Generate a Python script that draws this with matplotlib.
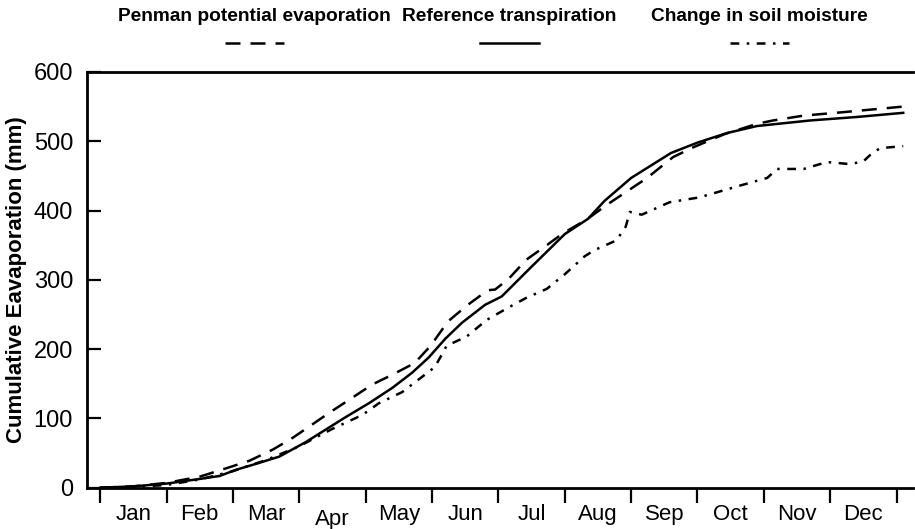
import numpy as np
import matplotlib
matplotlib.use("Agg")
import matplotlib.pyplot as plt
from matplotlib.lines import Line2D

# ======================================
# Data (months from 1 Jan, cumulative mm)
# ======================================

months = ["Jan", "Feb", "Mar", "Apr", "May", "Jun",
          "Jul", "Aug", "Sep", "Oct", "Nov", "Dec"]

ref_x = [0, 0.5, 1.0, 1.45, 1.8, 2.05, 2.4, 2.7, 3.1, 3.7, 4.05, 4.4, 4.7,
         4.95, 5.2, 5.45, 5.8, 6.05, 6.5, 7.0, 7.35, 7.6, 8.0, 8.6, 9.0,
         9.45, 9.9, 10.7, 11.4, 12.1]
ref_y = [0, 2, 6, 12, 17, 26, 36, 45, 66, 102, 122, 144, 166,
         188, 215, 238, 264, 276, 319, 366, 388, 414, 447, 483, 498,
         512, 522, 530, 535, 541]

pen_x = [0, 0.5, 1.0, 1.5, 1.93, 2.25, 2.6, 2.9, 3.45, 3.8, 4.1, 4.4, 4.74,
         4.98, 5.24, 5.54, 5.84, 5.95, 6.15, 6.42, 6.73, 6.97, 7.33, 7.63,
         8.24, 8.63, 8.93, 9.4, 9.89, 10.14, 10.6, 11.2, 12.1]
pen_y = [0, 2, 7, 16, 29, 39, 55, 72, 108, 130, 149, 163, 180,
         205, 240, 264, 285, 286, 301, 329, 350, 367, 387, 408,
         447, 477, 491, 510, 525, 530, 537, 542, 550]

soil_x = [0, 0.5, 1.0, 1.5, 2.0, 2.5, 2.98, 3.5, 3.95, 4.2, 4.55, 4.85, 5.04,
          5.16, 5.22, 5.52, 5.82, 6.15, 6.42, 6.73, 7.0, 7.3, 7.45, 7.78,
          7.92, 7.98, 8.16, 8.58, 9.03, 9.64, 10.05, 10.2, 10.6, 10.95,
          11.3, 11.5, 11.6, 11.75, 12.1]
soil_y = [0, 1, 4, 12, 24, 40, 59, 85, 105, 122, 138, 160, 174,
          194, 205, 218, 242, 260, 274, 287, 308, 334, 343, 357,
          377, 398, 394, 412, 419, 436, 447, 460, 460, 470,
          467, 471, 480, 490, 493]

y_ticks = [0, 100, 200, 300, 400, 500, 600]

# ======================================
# Styles
# ======================================

plt.rcParams["font.family"] = ["Liberation Sans", "DejaVu Sans"]
narrow_font = ["Liberation Sans Narrow", "Liberation Sans", "DejaVu Sans"]

lw = 1.8
pen_dash = (0, (6, 4))
soil_dash = (0, (3.5, 3, 1, 3))

# ======================================
# Plot
# ======================================

fig = plt.figure(figsize=(9.15, 5.29), dpi=100)
ax = fig.add_axes([0.095, 0.078, 0.903, 0.786])

ax.plot(pen_x, pen_y, color="black", linewidth=lw, linestyle=pen_dash)
ax.plot(ref_x, ref_y, color="black", linewidth=lw, linestyle="-")
ax.plot(soil_x, soil_y, color="black", linewidth=lw, linestyle=soil_dash)

ax.set_xlim(-0.2, 12.25)
ax.set_ylim(0, 600)

# month boundaries as ticks, names centred between them
ax.set_xticks(range(13))
ax.set_xticklabels([])
ax.set_xticks(np.arange(12) + 0.5, minor=True)
ax.set_xticklabels(months, minor=True, fontsize=16)
ax.tick_params(axis="x", which="major", direction="out", length=11, width=1.6)
ax.tick_params(axis="x", which="minor", length=0, pad=12)
ax.xaxis.get_minor_ticks()[3].set_pad(15)

ax.set_yticks(y_ticks)
ax.set_yticklabels([str(v) for v in y_ticks], family=narrow_font, fontsize=17)
ax.tick_params(axis="y", direction="in", length=10, width=1.6, pad=10)

for side in ["left", "bottom", "top"]:
    ax.spines[side].set_linewidth(2)
ax.spines["right"].set_visible(False)

ax.set_ylabel("Cumulative Eavaporation (mm)", fontsize=16,
              fontweight="bold", family=narrow_font, labelpad=5)

# ======================================
# Legend across the top
# ======================================

legend_items = [
    ("Penman potential evaporation", 0.278, pen_dash),
    ("Reference transpiration", 0.557, "-"),
    ("Change in soil moisture", 0.830, soil_dash),
]
for label, cx, style in legend_items:
    fig.text(cx, 0.969, label, ha="center", va="center", fontsize=13.8,
             fontweight="bold", family=narrow_font)
    fig.add_artist(Line2D([cx - 0.032, cx + 0.032], [0.919, 0.919],
                          transform=fig.transFigure, color="black",
                          linewidth=lw, linestyle=style))

fig.savefig("out.png", dpi=100)
